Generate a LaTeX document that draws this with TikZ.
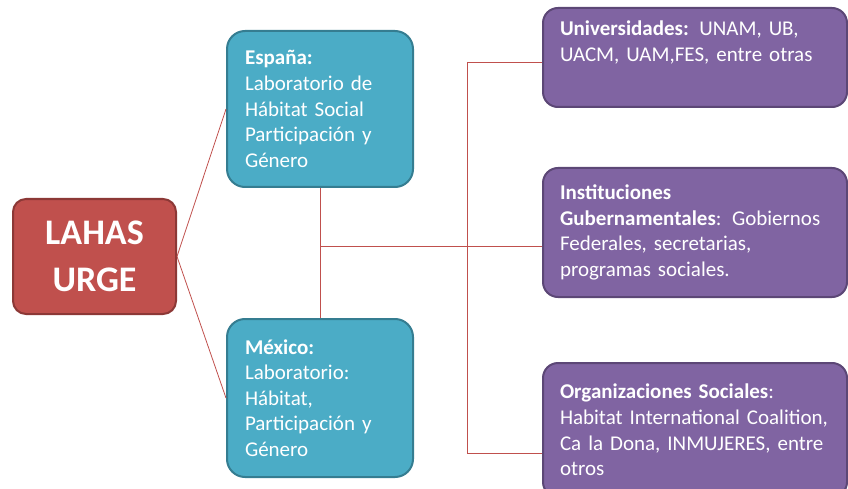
\documentclass[tikz,border=0pt]{standalone}
\usepackage{fontspec}
\setmainfont{Carlito}
\usepackage{xcolor}
\usepackage{tikz}

\definecolor{lahasred}{HTML}{C0504D}
\definecolor{lahasedge}{HTML}{8C3836}
\definecolor{labteal}{HTML}{4BACC6}
\definecolor{labedge}{HTML}{357D91}
\definecolor{aliadopurple}{HTML}{8064A2}
\definecolor{aliadoedge}{HTML}{5C4776}

\newcommand{\cajafuente}{\fontsize{21}{25.6}\selectfont\spaceskip=4pt plus 1pt\relax}

\begin{document}
\begin{tikzpicture}[x=1pt,y=-1pt,
  rootbox/.style={shape=rectangle,rounded corners=13pt,draw=lahasedge,fill=lahasred,line width=2pt,
    minimum width=163pt,minimum height=115pt,text=white,align=center,
    font=\fontsize{36}{47}\selectfont\bfseries},
  labbox/.style={shape=rectangle,rounded corners=18pt,draw=labedge,fill=labteal,line width=2pt,
    text width=150pt,inner xsep=18pt,inner ysep=0pt,align=left,text=white,
    font=\cajafuente},
  aliadobox/.style={shape=rectangle,rounded corners=15pt,draw=aliadoedge,fill=aliadopurple,line width=2pt,
    text width=270pt,inner xsep=17pt,inner ysep=0pt,align=left,text=white,
    font=\cajafuente},
  enlace/.style={draw=lahasred,line width=0.8pt}]
\useasboundingbox (0,0) rectangle (848,489);
\clip (0,0) rectangle (848,489);

\node[rootbox] (lahas) at (94.5,256.5) {LAHAS\\URGE};
\node[labbox,minimum height=156pt] (esp) at (320,109) {\textbf{España:}\\Laboratorio de\\Hábitat Social\\Participación y\\Género};
\node[labbox,minimum height=158pt] (mex) at (320,398) {\textbf{México:}\\Laboratorio:\\Hábitat,\\Participación y\\Género};

\node[aliadobox,minimum height=99pt] (uni) at (695,57.5) {\textbf{Universidades:} UNAM, UB,\\UACM, UAM,FES, entre otras\\\strut};
\node[aliadobox,minimum height=129pt] (inst) at (695,232.5) {\textbf{Instituciones}\\\textbf{Gubernamentales}: Gobiernos\\Federales, secretarias,\\programas sociales.};
\node[aliadobox,minimum height=134pt] (org) at (695,430) {\textbf{Organizaciones Sociales}:\\Habitat International Coalition,\\Ca la Dona, INMUJERES, entre\\otros};

\coordinate (cruce) at (320,246);
\coordinate (bus) at (467,246);
\coordinate (bustop) at (467,62);
\coordinate (busbot) at (467,453);

\path[enlace] (lahas.east) edge (esp.west);
\path[enlace] (lahas.east) edge (mex.west);
\path[enlace] (esp.south) edge (mex.north);
\path[enlace] (cruce) edge (bus);
\path[enlace] (bustop) edge (busbot);
\path[enlace] (bustop) edge (bustop -| uni.west);
\path[enlace] (bus) edge (bus -| inst.west);
\path[enlace] (busbot) edge (busbot -| org.west);
\end{tikzpicture}
\end{document}
